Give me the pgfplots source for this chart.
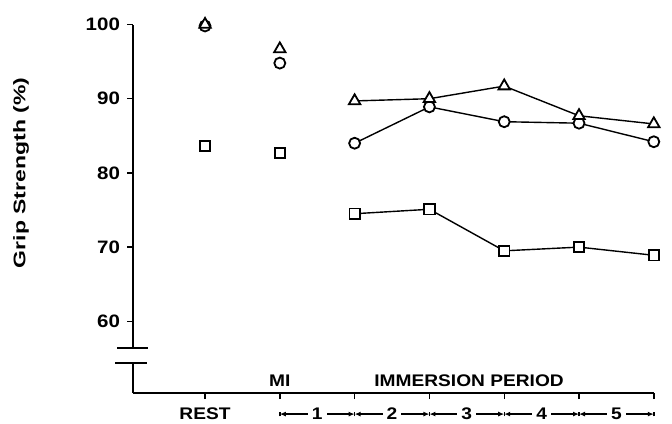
\documentclass[border=0pt]{standalone}
\usepackage{fontspec}
\setmainfont{Liberation Sans}[FakeStretch=1.14]
\usepackage{pgfplots}
\pgfplotsset{compat=1.18}
\usetikzlibrary{arrows.meta}
\newcommand\cf{\fontsize{8.4pt}{10pt}\selectfont\bfseries}
\newcommand\tf{\fontsize{9pt}{10pt}\selectfont\bfseries}
\begin{document}
\begin{tikzpicture}
\useasboundingbox (-66.5pt,-15pt) rectangle (269.5pt,196.5pt);
\begin{axis}[
 at={(0,0)}, anchor=south west,
 scale only axis, width=260.4pt, height=184.25pt,
 xmin=-0.963, xmax=6, ymin=50.34, ymax=100,
 axis x line=bottom, axis y line=left,
 axis line style={line width=0.9pt, -},
 xtick={0,1,2,3,4,5,6}, xticklabels={},
 ytick={60,70,80,90,100},
 tick align=outside, major tick length=3pt,
 tick style={line width=0.7pt, black},
 yticklabel style={font=\tf},
 /pgf/number format/assume math mode=true,
 clip=false,
 every axis plot/.append style={line width=0.7pt, black},
]
\addplot[mark=square*, mark size=2.6pt, mark options={fill=white, line width=0.9pt}] coordinates {(2,74.5)(3,75.1)(4,69.5)(5,70.0)(6,68.9)};
\addplot[mark=*, mark size=2.75pt, mark options={fill=white, line width=0.9pt}] coordinates {(2,84.0)(3,88.9)(4,86.9)(5,86.7)(6,84.2)};
\addplot[mark=triangle*, mark size=3.3pt, mark options={fill=white, line width=0.9pt}] coordinates {(2,89.7)(3,90.0)(4,91.7)(5,87.7)(6,86.6)};
\addplot[only marks, mark=square*, mark size=2.6pt, mark options={fill=white, line width=0.9pt}] coordinates {(0,83.6)(1,82.7)};
\addplot[only marks, mark=*, mark size=2.75pt, mark options={fill=white, line width=0.9pt}] coordinates {(0,99.8)(1,94.8)};
\addplot[only marks, mark=triangle*, mark size=3.3pt, mark options={fill=white, line width=0.9pt}] coordinates {(0,100)(1,96.7)};

\coordinate (gapA) at (axis cs:-0.963,54.55);
\coordinate (gapB) at (axis cs:-0.963,56.25);
\coordinate (brA1) at (axis cs:-1.175,56.4);
\coordinate (brA2) at (axis cs:-0.76,56.4);
\coordinate (brB1) at (axis cs:-1.2,54.4);
\coordinate (brB2) at (axis cs:-0.775,54.4);

\node[font=\cf] at (axis cs:0,47.5) {REST};
\node[font=\cf] at (axis cs:1,51.95) {MI};
\node[font=\cf] at (axis cs:3.53,51.95) {IMMERSION PERIOD};
\node[font=\cf, rotate=90] at (axis cs:-2.46,80) {\scalebox{1.2}[1]{Grip Strength (\%)}};

\draw[line width=0.6pt, {Latex[length=3pt,width=2.5pt]}-{Latex[length=3pt,width=2.5pt]}] (axis cs:1,47.5) -- (axis cs:2,47.5);
\draw[line width=0.6pt, {Latex[length=3pt,width=2.5pt]}-{Latex[length=3pt,width=2.5pt]}] (axis cs:2,47.5) -- (axis cs:3,47.5);
\draw[line width=0.6pt, {Latex[length=3pt,width=2.5pt]}-{Latex[length=3pt,width=2.5pt]}] (axis cs:3,47.5) -- (axis cs:4,47.5);
\draw[line width=0.6pt, {Latex[length=3pt,width=2.5pt]}-{Latex[length=3pt,width=2.5pt]}] (axis cs:4,47.5) -- (axis cs:5,47.5);
\draw[line width=0.6pt, {Latex[length=3pt,width=2.5pt]}-{Latex[length=3pt,width=2.5pt]}] (axis cs:5,47.5) -- (axis cs:6,47.5);
\node[font=\cf, fill=white, inner sep=2pt] at (axis cs:1.5,47.5) {1};
\node[font=\cf, fill=white, inner sep=2pt] at (axis cs:2.5,47.5) {2};
\node[font=\cf, fill=white, inner sep=2pt] at (axis cs:3.5,47.5) {3};
\node[font=\cf, fill=white, inner sep=2pt] at (axis cs:4.5,47.5) {4};
\node[font=\cf, fill=white, inner sep=2pt] at (axis cs:5.5,47.5) {5};
\draw[line width=0.7pt] (axis cs:1,47.2) -- (axis cs:1,47.8);
\draw[line width=0.7pt] (axis cs:2,47.2) -- (axis cs:2,47.8);
\draw[line width=0.7pt] (axis cs:3,47.2) -- (axis cs:3,47.8);
\draw[line width=0.7pt] (axis cs:4,47.2) -- (axis cs:4,47.8);
\draw[line width=0.7pt] (axis cs:5,47.2) -- (axis cs:5,47.8);
\draw[line width=0.7pt] (axis cs:6,47.2) -- (axis cs:6,47.8);
\end{axis}
\draw[white, line width=3pt] (gapA) -- (gapB);
\draw[line width=0.9pt] (brA1) -- (brA2);
\draw[line width=0.9pt] (brB1) -- (brB2);
\end{tikzpicture}
\end{document}
